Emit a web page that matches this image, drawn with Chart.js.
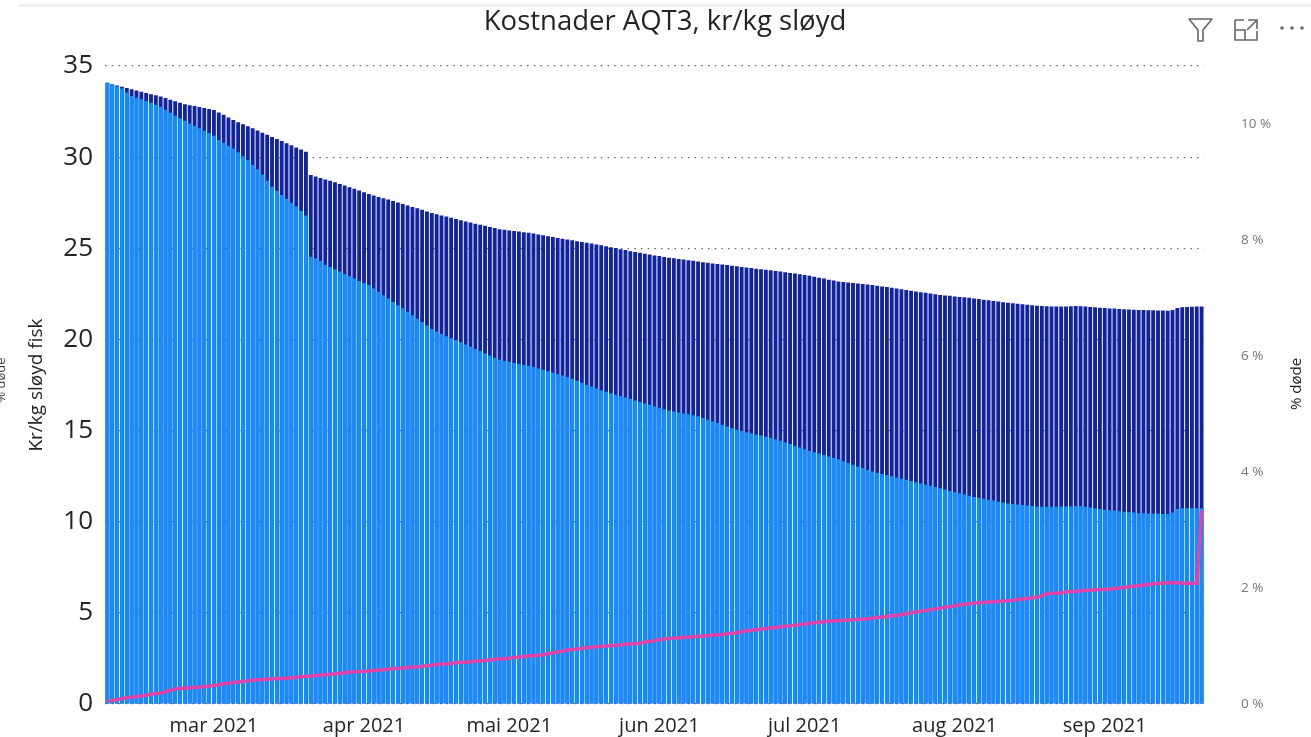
<!DOCTYPE html>
<html lang="no">
<head>
<meta charset="utf-8">
<title>Kostnader AQT3, kr/kg sløyd</title>
<script src="https://cdn.jsdelivr.net/npm/chart.js@4.4.1/dist/chart.umd.min.js"></script>
<style>
  html, body { margin: 0; padding: 0; background: #fff; }
  #wrap { position: relative; width: 1311px; height: 737px; overflow: hidden; }
  #chart { display: block; }
  #topLine { position: absolute; left: 19px; right: 0; top: 4px; height: 3px; background: #f0f0f0; }
  .icon { position: absolute; }
</style>
</head>
<body>
<div id="wrap">
  <canvas id="chart" width="1311" height="737"></canvas>
  <div id="topLine"></div>
  <svg class="icon" style="left:1187px;top:17px" width="27" height="26" viewBox="0 0 27 26">
    <path d="M2 2 H25 L16 13 V24 H11 V13 Z" fill="none" stroke="#666" stroke-width="1.6" stroke-linejoin="round"/>
  </svg>
  <svg class="icon" style="left:1233px;top:17px" width="27" height="25" viewBox="0 0 27 25">
    <path d="M2 3 V23 H24 V14 M2 3 H11 M2 13 H12 V23" fill="none" stroke="#666" stroke-width="1.6"/>
    <path d="M15 3 H24 V12 M24 3 L14 13" fill="none" stroke="#666" stroke-width="1.6"/>
  </svg>
  <svg class="icon" style="left:1279px;top:24px" width="28" height="8" viewBox="0 0 28 8">
    <circle cx="3" cy="4" r="1.8" fill="#666"/><circle cx="13" cy="4" r="1.8" fill="#666"/><circle cx="23" cy="4" r="1.8" fill="#666"/>
  </svg>
</div>
<script>
'use strict';

const TITLE = 'Kostnader AQT3, kr/kg sløyd';
const START_DATE = new Date(2021, 1, 7);
const MONTHS = ['jan', 'feb', 'mar', 'apr', 'mai', 'jun', 'jul', 'aug', 'sep', 'okt', 'nov', 'des'];

// kr/kg, top of the dark bar (whole column)
const totalCost = [
  34.08, 34.00, 33.93, 33.86, 33.79, 33.72, 33.65, 33.59, 33.52, 33.45,
  33.39, 33.32, 33.24, 33.15, 33.07, 32.98, 32.90, 32.85, 32.80, 32.75,
  32.70, 32.64, 32.59, 32.45, 32.32, 32.18, 32.04, 31.92, 31.81, 31.69,
  31.58, 31.46, 31.34, 31.23, 31.11, 31.00, 30.88, 30.76, 30.65, 30.53,
  30.42, 30.30, 29.02, 28.94, 28.86, 28.78, 28.70, 28.62, 28.53, 28.44,
  28.35, 28.26, 28.17, 28.07, 27.98, 27.90, 27.82, 27.75, 27.67, 27.59,
  27.51, 27.43, 27.35, 27.27, 27.19, 27.11, 27.02, 26.94, 26.87, 26.80,
  26.74, 26.67, 26.60, 26.54, 26.47, 26.41, 26.35, 26.29, 26.23, 26.17,
  26.11, 26.05, 26.01, 25.98, 25.95, 25.92, 25.88, 25.85, 25.81, 25.76,
  25.71, 25.66, 25.62, 25.57, 25.52, 25.48, 25.44, 25.39, 25.35, 25.30,
  25.26, 25.21, 25.17, 25.11, 25.06, 25.01, 24.95, 24.90, 24.84, 24.79,
  24.75, 24.70, 24.66, 24.61, 24.57, 24.52, 24.48, 24.45, 24.41, 24.38,
  24.34, 24.31, 24.27, 24.24, 24.21, 24.17, 24.14, 24.11, 24.08, 24.04,
  24.01, 23.98, 23.95, 23.92, 23.88, 23.85, 23.82, 23.79, 23.75, 23.72,
  23.68, 23.65, 23.61, 23.58, 23.54, 23.50, 23.44, 23.39, 23.34, 23.28,
  23.23, 23.18, 23.15, 23.12, 23.10, 23.07, 23.04, 23.02, 22.99, 22.95,
  22.91, 22.87, 22.83, 22.79, 22.75, 22.71, 22.67, 22.63, 22.59, 22.56,
  22.52, 22.48, 22.44, 22.41, 22.39, 22.36, 22.33, 22.31, 22.28, 22.25,
  22.22, 22.18, 22.15, 22.11, 22.08, 22.04, 22.01, 21.98, 21.96, 21.93,
  21.90, 21.88, 21.85, 21.83, 21.82, 21.81, 21.80, 21.81, 21.81, 21.82,
  21.83, 21.82, 21.80, 21.78, 21.76, 21.74, 21.72, 21.70, 21.69, 21.67,
  21.66, 21.64, 21.63, 21.61, 21.61, 21.60, 21.60, 21.59, 21.59, 21.58,
  21.62, 21.72, 21.76, 21.78, 21.79, 21.80, 21.80,
];

// kr/kg, top of the light blue part
const lightCost = [
  34.08, 33.98, 33.88, 33.78, 33.55, 33.36, 33.26, 33.17, 33.08, 32.98,
  32.88, 32.77, 32.60, 32.44, 32.27, 32.13, 31.99, 31.85, 31.72, 31.58,
  31.45, 31.32, 31.17, 30.94, 30.79, 30.63, 30.48, 30.27, 30.05, 29.84,
  29.58, 29.33, 29.05, 28.70, 28.38, 28.16, 27.93, 27.72, 27.50, 27.29,
  27.05, 26.80, 24.54, 24.45, 24.30, 24.10, 23.97, 23.85, 23.72, 23.59,
  23.46, 23.34, 23.21, 23.10, 22.98, 22.80, 22.61, 22.43, 22.25, 22.06,
  21.88, 21.71, 21.52, 21.33, 21.14, 20.95, 20.76, 20.57, 20.42, 20.30,
  20.18, 20.06, 19.95, 19.84, 19.72, 19.60, 19.48, 19.36, 19.24, 19.12,
  19.00, 18.88, 18.82, 18.77, 18.71, 18.66, 18.60, 18.55, 18.49, 18.41,
  18.33, 18.25, 18.18, 18.10, 18.02, 17.94, 17.84, 17.73, 17.63, 17.52,
  17.42, 17.31, 17.21, 17.13, 17.05, 16.97, 16.89, 16.81, 16.73, 16.65,
  16.57, 16.49, 16.41, 16.33, 16.25, 16.17, 16.10, 16.05, 15.99, 15.94,
  15.89, 15.84, 15.78, 15.69, 15.60, 15.50, 15.41, 15.32, 15.23, 15.13,
  15.04, 14.97, 14.91, 14.85, 14.79, 14.73, 14.66, 14.60, 14.53, 14.44,
  14.35, 14.26, 14.16, 14.07, 13.98, 13.89, 13.81, 13.74, 13.66, 13.58,
  13.50, 13.42, 13.32, 13.22, 13.13, 13.03, 12.94, 12.84, 12.75, 12.69,
  12.62, 12.56, 12.49, 12.43, 12.36, 12.30, 12.23, 12.17, 12.10, 12.03,
  11.97, 11.90, 11.83, 11.76, 11.69, 11.62, 11.56, 11.49, 11.42, 11.36,
  11.31, 11.26, 11.21, 11.16, 11.10, 11.05, 11.00, 10.97, 10.94, 10.92,
  10.89, 10.86, 10.83, 10.82, 10.82, 10.82, 10.82, 10.83, 10.84, 10.85,
  10.86, 10.86, 10.82, 10.78, 10.74, 10.70, 10.66, 10.63, 10.61, 10.58,
  10.55, 10.53, 10.50, 10.47, 10.46, 10.45, 10.45, 10.44, 10.43, 10.42,
  10.50, 10.70, 10.74, 10.74, 10.74, 10.74, 10.74,
];

// % døde (right axis)
const deadPct = [
  0.05, 0.06, 0.08, 0.09, 0.11, 0.12, 0.13, 0.14, 0.15, 0.17,
  0.18, 0.19, 0.21, 0.24, 0.26, 0.27, 0.27, 0.28, 0.29, 0.29,
  0.30, 0.31, 0.32, 0.33, 0.35, 0.36, 0.37, 0.38, 0.39, 0.40,
  0.41, 0.42, 0.42, 0.43, 0.43, 0.44, 0.44, 0.45, 0.45, 0.46,
  0.47, 0.48, 0.48, 0.49, 0.50, 0.51, 0.51, 0.52, 0.53, 0.54,
  0.55, 0.55, 0.56, 0.56, 0.57, 0.58, 0.58, 0.59, 0.60, 0.61,
  0.61, 0.62, 0.63, 0.64, 0.64, 0.65, 0.66, 0.67, 0.68, 0.69,
  0.69, 0.70, 0.71, 0.72, 0.72, 0.73, 0.74, 0.74, 0.75, 0.76,
  0.77, 0.78, 0.78, 0.79, 0.80, 0.81, 0.82, 0.83, 0.83, 0.84,
  0.85, 0.87, 0.88, 0.90, 0.91, 0.93, 0.94, 0.95, 0.96, 0.97,
  0.98, 0.99, 0.99, 1.00, 1.01, 1.01, 1.02, 1.03, 1.04, 1.04,
  1.05, 1.07, 1.08, 1.09, 1.11, 1.12, 1.13, 1.14, 1.14, 1.15,
  1.15, 1.16, 1.17, 1.17, 1.18, 1.19, 1.19, 1.20, 1.21, 1.22,
  1.23, 1.25, 1.26, 1.27, 1.28, 1.29, 1.30, 1.31, 1.32, 1.33,
  1.34, 1.35, 1.36, 1.37, 1.38, 1.39, 1.40, 1.41, 1.42, 1.43,
  1.43, 1.44, 1.44, 1.45, 1.45, 1.46, 1.46, 1.47, 1.48, 1.49,
  1.50, 1.51, 1.52, 1.53, 1.54, 1.56, 1.57, 1.59, 1.60, 1.61,
  1.63, 1.64, 1.65, 1.67, 1.68, 1.69, 1.71, 1.72, 1.73, 1.74,
  1.75, 1.75, 1.76, 1.76, 1.77, 1.77, 1.78, 1.79, 1.80, 1.81,
  1.82, 1.83, 1.84, 1.87, 1.90, 1.91, 1.91, 1.92, 1.93, 1.94,
  1.94, 1.95, 1.96, 1.96, 1.97, 1.97, 1.98, 1.98, 1.99, 2.00,
  2.01, 2.02, 2.03, 2.04, 2.05, 2.06, 2.07, 2.08, 2.08, 2.09,
  2.09, 2.09, 2.08, 2.08, 2.08, 2.08, 3.34,
];

const COLORS = {
  light: '#118DFF',
  dark: '#12239E',
  line: '#E044A7',
  text: '#252423',
  muted: '#777777',
};

const FONT = "'Open Sans', 'Noto Sans', sans-serif";

const days = totalCost.map((_, i) => new Date(START_DATE.getFullYear(), START_DATE.getMonth(), START_DATE.getDate() + i));
const labels = days.map(d => `${d.getFullYear()}-${d.getMonth() + 1}-${d.getDate()}`);

function monthLabel(index) {
  const d = days[index];
  if (!d || d.getDate() !== 1) return null;
  return `${MONTHS[d.getMonth()]} ${d.getFullYear()}`;
}

function drawRotated(ctx, text, x, y, font, color) {
  ctx.save();
  ctx.fillStyle = color;
  ctx.textAlign = 'center';
  ctx.textBaseline = 'middle';
  ctx.font = font;
  ctx.translate(x, y);
  ctx.rotate(-Math.PI / 2);
  ctx.fillText(text, 0, 0);
  ctx.restore();
}

// title and side texts that Chart.js would place differently
const extraText = {
  id: 'extraText',
  afterDraw(chart) {
    const { ctx } = chart;
    ctx.save();
    ctx.fillStyle = COLORS.text;
    ctx.textAlign = 'center';
    ctx.textBaseline = 'middle';
    ctx.font = `27.5px ${FONT}`;
    ctx.fillText(TITLE, 665, 22);
    ctx.restore();

    drawRotated(ctx, '% døde', 1297, 384, `15px ${FONT}`, COLORS.text);
    drawRotated(ctx, '% døde', 1, 380, `13px ${FONT}`, '#444');
  },
};

new Chart(document.getElementById('chart'), {
  type: 'bar',
  data: {
    labels,
    datasets: [
      {
        type: 'line',
        label: '% døde',
        data: deadPct,
        yAxisID: 'y1',
        borderColor: COLORS.line,
        borderWidth: 3.5,
        pointRadius: 0,
        tension: 0,
        order: 0,
      },
      {
        label: 'Kr/kg sløyd fisk',
        data: lightCost,
        yAxisID: 'y',
        backgroundColor: COLORS.light,
        grouped: false,
        categoryPercentage: 1,
        barPercentage: 0.8,
        order: 1,
      },
      {
        label: 'Kr/kg sløyd fisk, totalt',
        data: totalCost,
        yAxisID: 'y',
        backgroundColor: COLORS.dark,
        grouped: false,
        categoryPercentage: 1,
        barPercentage: 0.8,
        order: 2,
      },
    ],
  },
  options: {
    responsive: false,
    animation: false,
    layout: { padding: { top: 66, left: 0, right: 0, bottom: 0 } },
    plugins: {
      legend: { display: false },
      tooltip: { enabled: false },
      title: { display: false },
    },
    scales: {
      x: {
        offset: true,
        grid: { display: false },
        border: { display: false },
        ticks: {
          autoSkip: false,
          maxRotation: 0,
          minRotation: 0,
          padding: 2,
          color: COLORS.text,
          font: { family: FONT, size: 20 },
          callback: (value, index) => monthLabel(index),
        },
        afterFit: scale => { scale.height = 33; },
      },
      y: {
        position: 'left',
        min: 0,
        max: 35,
        border: { display: false, dash: [1.5, 5.2] },
        grid: { color: 'rgba(0,0,0,0.6)', lineWidth: 1.2, drawTicks: false },
        ticks: {
          stepSize: 5,
          padding: 12,
          color: COLORS.text,
          font: { family: FONT, size: 26 },
        },
        title: {
          display: true,
          text: 'Kr/kg sløyd fisk',
          color: COLORS.text,
          font: { family: FONT, size: 19 },
          padding: { top: 25, bottom: 0 },
        },
        afterFit: scale => { scale.width = 105; },
      },
      y1: {
        position: 'right',
        min: 0,
        max: 11,
        border: { display: false },
        // invisible tick marks push the labels away from the plot
        grid: { drawOnChartArea: false, drawTicks: true, tickLength: 34, color: 'rgba(0,0,0,0)' },
        ticks: {
          stepSize: 2,
          padding: 3,
          color: COLORS.muted,
          font: { family: FONT, size: 13.5 },
          callback: v => (Math.round(v) % 2 === 0 && Math.abs(v - Math.round(v)) < 1e-6 ? `${Math.round(v)} %` : null),
        },
        afterFit: scale => { scale.width = 107; },
      },
    },
  },
  plugins: [extraText],
});
</script>
</body>
</html>
